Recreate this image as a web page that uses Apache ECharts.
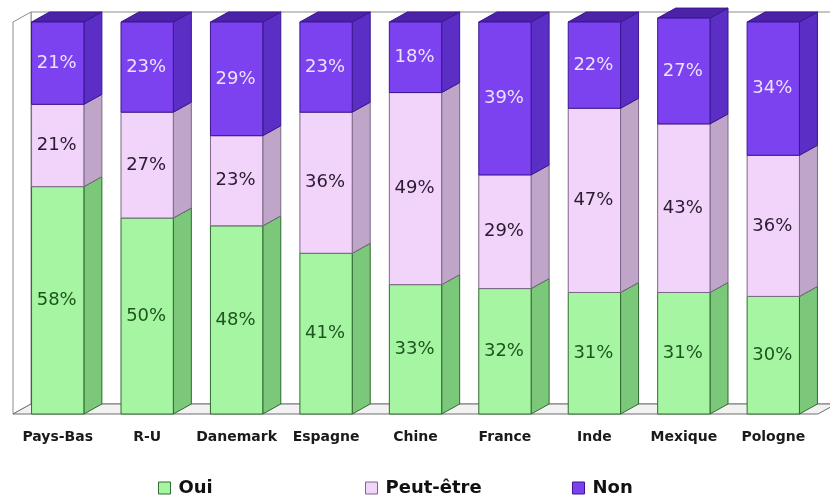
<!DOCTYPE html>
<html>
<head>
<meta charset="utf-8">
<script src="https://cdn.jsdelivr.net/npm/echarts@6/dist/echarts.min.js"></script>
<style>
  html, body { margin: 0; padding: 0; background: #ffffff; }
  #chart { width: 830px; height: 501px; }
</style>
</head>
<body>
<div id="chart"></div>
<script>
// Survey answers per country (percent)
const categories = ['Pays-Bas', 'R-U', 'Danemark', 'Espagne', 'Chine', 'France', 'Inde', 'Mexique', 'Pologne'];
const oui = [58, 50, 48, 41, 33, 32, 31, 31, 30];
const peutEtre = [21, 27, 23, 36, 49, 29, 47, 43, 36];
const non = [21, 23, 29, 23, 18, 39, 22, 27, 34];

// Depth of the pseudo-3D extrusion, in pixels
const DX = 18, DY = 10;
const FONT = '"DejaVu Sans", "Liberation Sans", Arial, sans-serif';

const palette = {
  'Oui':       { front: '#a6f5a2', side: '#7cc87a', top: '#8ede8a', edge: '#2f6a2f', label: '#1c561c' },
  'Peut-être': { front: '#f2d3fa', side: '#bfa6c9', top: '#d9bde3', edge: '#7d6787', label: '#2a1b30' },
  'Non':       { front: '#7c42f0', side: '#5b2ec6', top: '#4c22a8', edge: '#3a1690', label: '#ece0ff' }
};

// Stack the three series: each item is [categoryIndex, value, base]
function stackData(values, bases) {
  return values.map((v, i) => [i, v, bases[i]]);
}
const baseOui = oui.map(() => 0);
const basePeut = oui.slice();
const baseNon = oui.map((v, i) => v + peutEtre[i]);

function barRenderer(name) {
  const c = palette[name];
  return function (params, api) {
    const idx = api.value(0);
    const val = api.value(1);
    const base = api.value(2);
    const pBot = api.coord([idx, base]);
    const pTop = api.coord([idx, base + val]);
    const w = api.size([1, 0])[0] * 0.585;
    const x0 = pBot[0] - w / 2, x1 = x0 + w;
    const yb = pBot[1], yt = pTop[1];
    return {
      type: 'group',
      children: [
        {
          type: 'polygon',
          shape: { points: [[x1, yb], [x1 + DX, yb - DY], [x1 + DX, yt - DY], [x1, yt]] },
          style: { fill: c.side, stroke: c.edge, lineWidth: 1 }
        },
        {
          type: 'polygon',
          shape: { points: [[x0, yt], [x0 + DX, yt - DY], [x1 + DX, yt - DY], [x1, yt]] },
          style: { fill: c.top, stroke: c.edge, lineWidth: 1 }
        },
        {
          type: 'rect',
          shape: { x: x0, y: yt, width: w, height: yb - yt },
          style: { fill: c.front, stroke: c.edge, lineWidth: 1 }
        },
        {
          type: 'text',
          style: {
            text: val + '%',
            x: (x0 + x1) / 2 - 1,
            y: (yt + yb) / 2,
            align: 'center',
            verticalAlign: 'middle',
            fill: c.label,
            font: '18px ' + FONT
          }
        }
      ]
    };
  };
}

// Back wall, left wall and floor of the 3D box, built from the grid rectangle
function frameRenderer(params, api) {
  const cs = params.coordSys;
  const l = cs.x, t = cs.y, r = cs.x + cs.width, b = cs.y + cs.height;
  const stroke = '#8c8c8c';
  return {
    type: 'group',
    children: [
      {
        type: 'polygon',
        shape: { points: [[l + DX, t - DY], [r + DX, t - DY], [r + DX, b - DY], [l + DX, b - DY]] },
        style: { fill: '#ffffff', stroke: stroke, lineWidth: 1 }
      },
      {
        type: 'polygon',
        shape: { points: [[l, t], [l + DX, t - DY], [l + DX, b - DY], [l, b]] },
        style: { fill: '#ffffff', stroke: stroke, lineWidth: 1 }
      },
      {
        type: 'polygon',
        shape: { points: [[l, b], [r, b], [r + DX, b - DY], [l + DX, b - DY]] },
        style: { fill: '#f2f2f2', stroke: '#6e6e6e', lineWidth: 1 }
      }
    ]
  };
}

function legendFor(name, left) {
  const c = palette[name];
  return {
    data: [{ name: name, itemStyle: { color: c.front, borderColor: c.edge, borderWidth: 1 } }],
    left: left,
    top: 474,
    icon: 'rect',
    itemWidth: 12,
    itemHeight: 12,
    selectedMode: false,
    textStyle: {
      fontFamily: FONT,
      fontSize: 18,
      fontWeight: 'bold',
      color: '#111111',
      padding: [0, 0, 0, 3]
    }
  };
}

const chart = echarts.init(document.getElementById('chart'), null, { renderer: 'canvas' });
chart.setOption({
  backgroundColor: '#ffffff',
  animation: false,
  grid: { left: 13, right: 12, top: 22, bottom: 87 },
  legend: [legendFor('Oui', 153), legendFor('Peut-être', 360), legendFor('Non', 567)],
  xAxis: {
    type: 'category',
    data: categories,
    axisLine: { show: false },
    axisTick: { show: false },
    axisLabel: {
      interval: 0,
      margin: 16,
      fontFamily: FONT,
      fontSize: 14,
      fontWeight: 'bold',
      color: '#1a1a1a'
    }
  },
  yAxis: {
    type: 'value',
    min: 0,
    max: 100,
    show: false,
    splitLine: { show: false }
  },
  series: [
    {
      type: 'custom',
      name: 'frame',
      silent: true,
      renderItem: frameRenderer,
      data: [[0, 0]],
      encode: { x: 0, y: 1 },
      z: 1
    },
    {
      type: 'custom', name: 'Oui', renderItem: barRenderer('Oui'),
      itemStyle: { color: palette['Oui'].front },
      data: stackData(oui, baseOui), encode: { x: 0, y: 1 }, z: 2
    },
    {
      type: 'custom', name: 'Peut-être', renderItem: barRenderer('Peut-être'),
      itemStyle: { color: palette['Peut-être'].front },
      data: stackData(peutEtre, basePeut), encode: { x: 0, y: 1 }, z: 3
    },
    {
      type: 'custom', name: 'Non', renderItem: barRenderer('Non'),
      itemStyle: { color: palette['Non'].front },
      data: stackData(non, baseNon), encode: { x: 0, y: 1 }, z: 4
    }
  ]
});
</script>
</body>
</html>
